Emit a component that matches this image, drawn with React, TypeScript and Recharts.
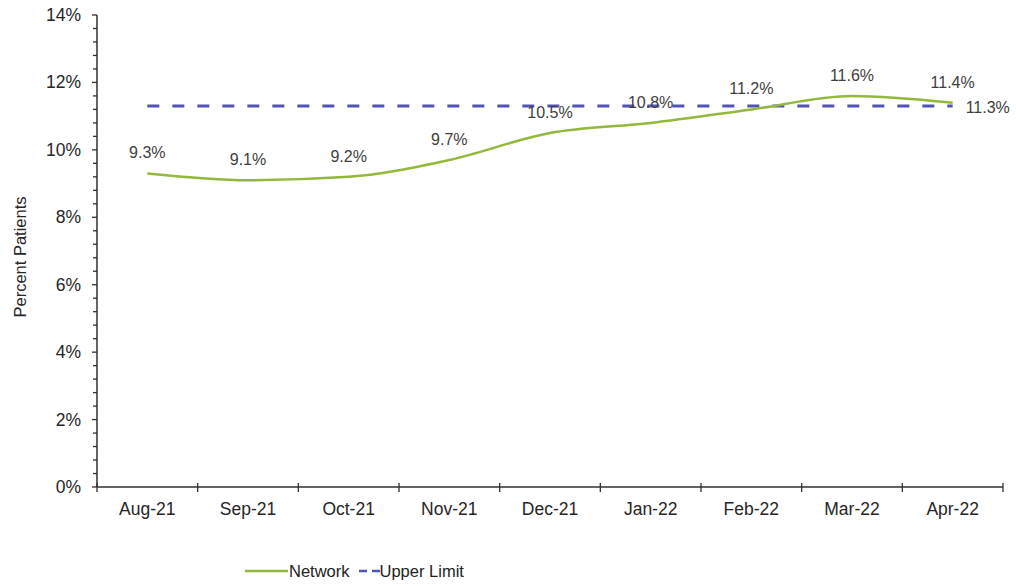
import { LineChart, Line, XAxis, YAxis, Legend, LabelList } from 'recharts';

// values
const months = ['Aug-21', 'Sep-21', 'Oct-21', 'Nov-21', 'Dec-21', 'Jan-22', 'Feb-22', 'Mar-22', 'Apr-22'];
const network = [9.3, 9.1, 9.2, 9.7, 10.5, 10.8, 11.2, 11.6, 11.4];
const upperLimit = [11.3, 11.3, 11.3, 11.3, 11.3, 11.3, 11.3, 11.3, 11.3];
const majorTicks = [0, 2, 4, 6, 8, 10, 12, 14];
const minorPerMajor = 5;

const data = months.map((m, i) => ({ month: m, network: network[i], upper: upperLimit[i] }));

// minor ticks every 0.4%
const yTicks: number[] = [];
for (let i = 0; i < majorTicks.length - 1; i++) {
  const step = (majorTicks[i + 1] - majorTicks[i]) / minorPerMajor;
  for (let j = 0; j < minorPerMajor; j++) yTicks.push(Math.round((majorTicks[i] + j * step) * 100) / 100);
}
yTicks.push(majorTicks[majorTicks.length - 1]);

const W = 1016;
const H = 586;
const margin = { top: 15, right: 13, left: 37, bottom: 4 };
const Y_AXIS_W = 60;
const LEGEND_H = 22;
const X_AXIS_H = 73;
const plotW = W - margin.left - margin.right - Y_AXIS_W;
const band = plotW / months.length;

const font = 'Arial, "Liberation Sans", sans-serif';
const textColor = '#262626';
const labelColor = '#404040';
const axisColor = '#303030';
const green = '#93B83C';
const blue = '#5353B5';

function YTick(props: any) {
  const { x, y, payload } = props;
  const v = payload.value;
  const major = majorTicks.includes(v);
  return (
    <g>
      <line x1={x - (major ? 5 : 4)} x2={x} y1={y} y2={y} stroke={axisColor} strokeWidth={1.3} />
      {major && (
        <text x={x - 16} y={y} dy={6} textAnchor="end" fontSize={17.5} fontFamily={font} fill={textColor}>
          {v}%
        </text>
      )}
    </g>
  );
}

function XTick(props: any) {
  const { x, y, payload, index } = props;
  return (
    <g>
      {index === 0 && (
        <line x1={x - band / 2} x2={x - band / 2} y1={y - 4} y2={y + 5} stroke={axisColor} strokeWidth={1.3} />
      )}
      <line x1={x + band / 2} x2={x + band / 2} y1={y - 4} y2={y + 5} stroke={axisColor} strokeWidth={1.3} />
      <text x={x} y={y} dy={28} textAnchor="middle" fontSize={17.5} fontFamily={font} fill={textColor}>
        {payload.value}
      </text>
    </g>
  );
}

function UpperLabel(props: any) {
  const { x, y, value, index } = props;
  if (index !== months.length - 1) return null;
  return (
    <text x={x + 13} y={y} dy={7} textAnchor="start" fontSize={16} fontFamily={font} fill={labelColor}>
      {value}%
    </text>
  );
}

function NetworkLabel(props: any) {
  const { x, y, value } = props;
  return (
    <text x={x} y={y} dy={-15} textAnchor="middle" fontSize={16} fontFamily={font} fill={labelColor}>
      {value}%
    </text>
  );
}

function LegendContent() {
  return (
    <div style={{ height: LEGEND_H, display: 'flex', alignItems: 'center', paddingLeft: 208, fontFamily: font, fontSize: 16.5, color: '#222' }}>
      <svg width={43} height={10} style={{ marginRight: 1 }}>
        <line x1={0} x2={43} y1={5} y2={5} stroke={green} strokeWidth={2.5} />
      </svg>
      <span style={{ marginRight: 9 }}>Network</span>
      <svg width={21} height={10}>
        <line x1={0} x2={21} y1={5} y2={5} stroke={blue} strokeWidth={2.5} strokeDasharray="8 5" />
      </svg>
      <span>Upper Limit</span>
    </div>
  );
}

export default function App() {
  return (
    <div style={{ position: 'absolute', left: 0, top: 0, width: W, height: H, background: '#ffffff' }}>
      <LineChart width={W} height={H} data={data} margin={margin}>
        <XAxis
          dataKey="month"
          height={X_AXIS_H}
          padding={{ left: band / 2, right: band / 2 }}
          tick={<XTick />}
          tickLine={false}
          tickSize={0}
          tickMargin={0}
          interval={0}
          axisLine={{ stroke: axisColor, strokeWidth: 1.5 }}
        />
        <YAxis
          type="number"
          domain={[0, 14]}
          ticks={yTicks}
          interval={0}
          width={Y_AXIS_W}
          tick={<YTick />}
          tickLine={false}
          tickSize={0}
          tickMargin={0}
          axisLine={{ stroke: axisColor, strokeWidth: 1.5 }}
          label={{
            value: 'Percent Patients',
            content: (p: any) => {
              const vb = p.viewBox || { y: 15, height: 472 };
              const cy = vb.y + vb.height / 2 + 6;
              return (
                <text x={20} y={cy} transform={`rotate(-90 20 ${cy})`} textAnchor="middle" dy={6} fontSize={16.5} fontFamily={font} fill={textColor}>
                  Percent Patients
                </text>
              );
            },
          }}
        />
        <Legend verticalAlign="bottom" height={LEGEND_H} content={<LegendContent />} />
        <Line
          dataKey="upper"
          name="Upper Limit"
          stroke={blue}
          strokeWidth={3}
          strokeDasharray="12 13"
          dot={false}
          type="linear"
          isAnimationActive={false}
        >
          <LabelList dataKey="upper" content={<UpperLabel />} />
        </Line>
        <Line
          dataKey="network"
          name="Network"
          stroke={green}
          strokeWidth={2.5}
          dot={false}
          type="monotone"
          isAnimationActive={false}
        >
          <LabelList dataKey="network" content={<NetworkLabel />} />
        </Line>
      </LineChart>
    </div>
  );
}
